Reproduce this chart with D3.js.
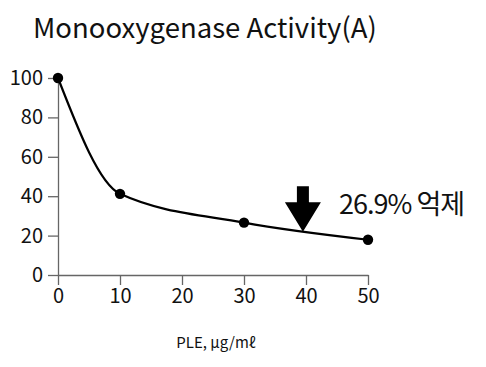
<!DOCTYPE html>
<html><head><meta charset="utf-8">
<script src="https://cdn.jsdelivr.net/npm/d3@7"></script>
<style>body{margin:0;background:#fff}text{font-family:"Noto Sans CJK KR","Noto Sans",sans-serif}</style>
</head><body><svg id="c" width="486" height="367"></svg>
<script>
const doses = [0, 10, 30, 50];
const activity = [100, 41.2, 26.6, 17.9];
const xTicks = [0, 10, 20, 30, 40, 50];
const yTicks = [0, 20, 40, 60, 80, 100];
const title = "Monooxygenase Activity(A)";
const xLabel = "PLE, μg/mℓ";
const note = "26.9% 억제";
const arrowAt = { x: 39.5, yTop: 45, yTip: 22 };

(function () {
const svg = d3.select("#c");
const x = d3.scaleLinear().domain([0, 50]).range([58, 368]);
const y = d3.scaleLinear().domain([0, 100]).range([275, 78]);
const axisColor = "#666";

svg.append("text").attr("x", 33).attr("y", 38).attr("font-size", 27.5).attr("fill", "#111").text(title);

const ya = svg.append("g").attr("transform", "translate(58,0)")
  .call(d3.axisLeft(y).tickValues(yTicks).tickSize(10).tickPadding(5).tickSizeOuter(0));
const xa = svg.append("g").attr("transform", "translate(0,275)")
  .call(d3.axisBottom(x).tickValues(xTicks).tickSize(10).tickPadding(4).tickSizeOuter(0));
[ya, xa].forEach(g => {
  g.select(".domain").attr("stroke", axisColor).attr("stroke-width", 1.3);
  g.selectAll(".tick line").attr("stroke", axisColor).attr("stroke-width", 1.3);
  g.selectAll("text").attr("font-size", 20).attr("fill", "#111")
   .attr("font-family", '"Noto Sans CJK KR","Noto Sans",sans-serif');
});

const data = doses.map((d, i) => [d, activity[i]]);
svg.append("path").datum(data).attr("fill", "none").attr("stroke", "#000").attr("stroke-width", 2.2)
  .attr("d", d3.line().x(d => x(d[0])).y(d => y(d[1])).curve(d3.curveMonotoneX));
svg.selectAll("circle.pt").data(data).join("circle").attr("class", "pt")
  .attr("cx", d => x(d[0])).attr("cy", d => y(d[1])).attr("r", 5.2).attr("fill", "#000");

const ax = x(arrowAt.x), aTop = y(arrowAt.yTop), aTip = y(arrowAt.yTip);
const headY = aTop + 16;
svg.append("path").attr("fill", "#000").attr("d",
  `M${ax-6},${aTop} L${ax+6},${aTop} L${ax+6},${headY} L${ax+18},${headY} L${ax},${aTip} L${ax-18},${headY} L${ax-6},${headY} Z`);
svg.append("text").attr("x", 339).attr("y", 214).attr("font-size", 27).attr("letter-spacing", -1).attr("fill", "#111").text(note);

svg.append("text").attr("x", 216).attr("y", 348).attr("text-anchor", "middle").attr("font-size", 15).attr("fill", "#111").text(xLabel);
})();
</script></body></html>
